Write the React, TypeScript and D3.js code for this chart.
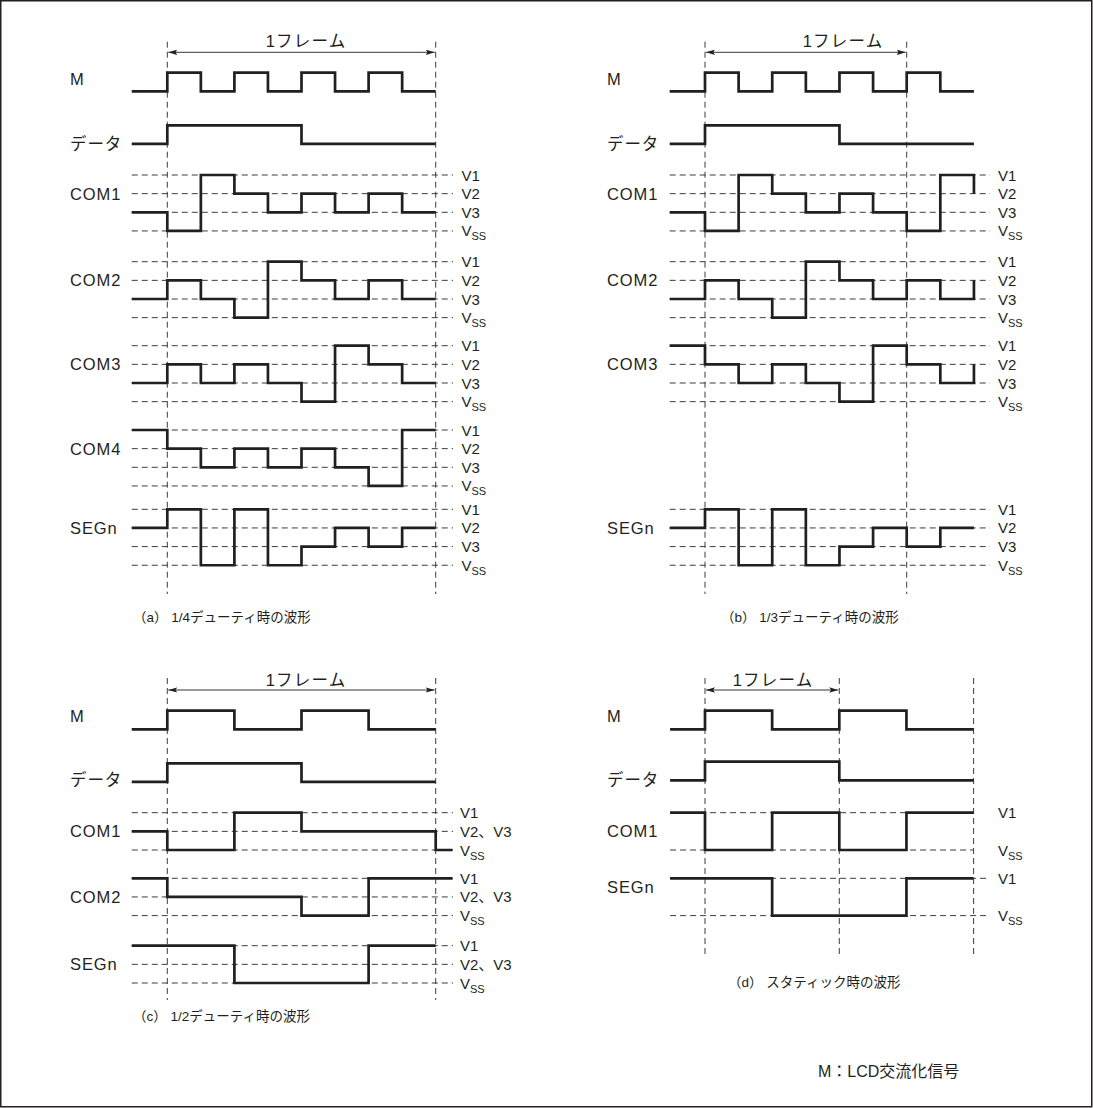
import React from "react";
import * as d3 from "d3";

// ---------- level vocabularies ----------
const LOGIC_LEVELS = ["H", "L"];
const DUTY4_LEVELS = ["V1", "V2", "V3", "VSS"];
const DUTY2_LEVELS = ["V1", "V23", "VSS"];
const STATIC_LEVELS = ["V1", "MID", "VSS"];

// ---------- (a) 1/4 duty : pre-level + 8 steps ----------
const a_M = ["L", "H", "L", "H", "L", "H", "L", "H", "L"];
const a_DATA = ["L", "H", "H", "H", "H", "L", "L", "L", "L"];
const a_COM1 = ["V3", "VSS", "V1", "V2", "V3", "V2", "V3", "V2", "V3"];
const a_COM2 = ["V3", "V2", "V3", "VSS", "V1", "V2", "V3", "V2", "V3"];
const a_COM3 = ["V3", "V2", "V3", "V2", "V3", "VSS", "V1", "V2", "V3"];
const a_COM4 = ["V1", "V2", "V3", "V2", "V3", "V2", "V3", "VSS", "V1"];
const a_SEG = ["V2", "V1", "VSS", "V1", "VSS", "V3", "V2", "V3", "V2"];

// ---------- (b) 1/3 duty : pre-level + 8 steps (+ tail) ----------
const b_M = ["L", "H", "L", "H", "L", "H", "L", "H", "L"];
const b_DATA = ["L", "H", "H", "H", "H", "L", "L", "L", "L"];
const b_COM1 = ["V3", "VSS", "V1", "V2", "V3", "V2", "V3", "VSS", "V1"];
const b_COM2 = ["V3", "V2", "V3", "VSS", "V1", "V2", "V3", "V2", "V3"];
const b_COM3 = ["V1", "V2", "V3", "V2", "V3", "VSS", "V1", "V2", "V3"];
const b_SEG = ["V2", "V1", "VSS", "V1", "VSS", "V3", "V2", "V3", "V2"];
const b_TAILS = { COM1: "V2", COM2: "V2", COM3: "V2" };

// ---------- (c) 1/2 duty : pre-level + 4 steps (+ tail) ----------
const c_M = ["L", "H", "L", "H", "L"];
const c_DATA = ["L", "H", "H", "L", "L"];
const c_COM1 = ["V23", "VSS", "V1", "V23", "V23"];
const c_COM2 = ["V1", "V23", "V23", "VSS", "V1"];
const c_SEG = ["V1", "V1", "VSS", "VSS", "V1"];
const c_TAILS = { COM1: "VSS", COM2: "V1" };

// ---------- (d) static : pre-level + 4 steps ----------
const d_M = ["L", "H", "L", "H", "L"];
const d_DATA = ["L", "H", "H", "L", "L"];
const d_COM1 = ["V1", "VSS", "V1", "VSS", "V1"];
const d_SEG = ["V1", "V1", "VSS", "VSS", "V1"];

// ---------- text ----------
const FRAME_LABEL = "1フレーム";
const CAPTIONS = [
  "（a） 1/4デューティ時の波形",
  "（b） 1/3デューティ時の波形",
  "（c） 1/2デューティ時の波形",
  "（d） スタティック時の波形",
];
const FOOTNOTE = "M：LCD交流化信号";

// ---------- style ----------
const INK = "#231f20";
const DASH = "#3c3c3c";
const FONT = "'Liberation Sans', Arial, 'Noto Sans CJK JP', sans-serif";
const GRID = 18.65;

type Row = {
  label: string;
  top: number;
  levels: string[];
  wave: string[];
  tail?: string;
  labelGrid: number;
  marks?: string[];
  dashEnd?: number;
};

type Panel = {
  frameStart: number;
  frameEnd: number;
  frameSteps: number;
  totalSteps: number;
  pre: number;
  tailExt: number;
  vLines: number[];
  vTop: number;
  vBottom: number;
  arrowY: number;
  titleX: number;
  titleY: number;
  labelX: number;
  rightX: number;
  dashEnd: number;
  caption: string;
  captionX: number;
  captionY: number;
  rows: Row[];
};

const panels: Panel[] = [
  {
    frameStart: 167.3, frameEnd: 435.7, frameSteps: 8, totalSteps: 8, pre: -1.06, tailExt: 0,
    vLines: [0, 8], vTop: 41.7, vBottom: 594, arrowY: 52.3, titleX: 306, titleY: 47,
    labelX: 70, rightX: 461.5, dashEnd: 453, caption: CAPTIONS[0], captionX: 133, captionY: 622,
    rows: [
      { label: "M", top: 72.7, levels: LOGIC_LEVELS, wave: a_M, labelGrid: 0.35 },
      { label: "データ", top: 125.3, levels: LOGIC_LEVELS, wave: a_DATA, labelGrid: 1 },
      { label: "COM1", top: 175, levels: DUTY4_LEVELS, wave: a_COM1, labelGrid: 1, marks: DUTY4_LEVELS },
      { label: "COM2", top: 261.7, levels: DUTY4_LEVELS, wave: a_COM2, labelGrid: 1, marks: DUTY4_LEVELS },
      { label: "COM3", top: 345.7, levels: DUTY4_LEVELS, wave: a_COM3, labelGrid: 1, marks: DUTY4_LEVELS },
      { label: "COM4", top: 430, levels: DUTY4_LEVELS, wave: a_COM4, labelGrid: 1, marks: DUTY4_LEVELS },
      { label: "SEGn", top: 509.3, levels: DUTY4_LEVELS, wave: a_SEG, labelGrid: 1, marks: DUTY4_LEVELS },
    ],
  },
  {
    frameStart: 705, frameEnd: 906.7, frameSteps: 6, totalSteps: 8, pre: -1.05, tailExt: 0,
    vLines: [0, 6], vTop: 41.7, vBottom: 594, arrowY: 52.3, titleX: 843, titleY: 47,
    labelX: 607, rightX: 998, dashEnd: 990, caption: CAPTIONS[1], captionX: 721, captionY: 622,
    rows: [
      { label: "M", top: 72.7, levels: LOGIC_LEVELS, wave: b_M, labelGrid: 0.35 },
      { label: "データ", top: 125.3, levels: LOGIC_LEVELS, wave: b_DATA, labelGrid: 1 },
      { label: "COM1", top: 175, levels: DUTY4_LEVELS, wave: b_COM1, tail: b_TAILS.COM1, labelGrid: 1, marks: DUTY4_LEVELS },
      { label: "COM2", top: 261.7, levels: DUTY4_LEVELS, wave: b_COM2, tail: b_TAILS.COM2, labelGrid: 1, marks: DUTY4_LEVELS },
      { label: "COM3", top: 345.7, levels: DUTY4_LEVELS, wave: b_COM3, tail: b_TAILS.COM3, labelGrid: 1, marks: DUTY4_LEVELS },
      { label: "SEGn", top: 509.3, levels: DUTY4_LEVELS, wave: b_SEG, labelGrid: 1, marks: DUTY4_LEVELS },
    ],
  },
  {
    frameStart: 167.3, frameEnd: 435.7, frameSteps: 4, totalSteps: 4, pre: -0.53, tailExt: 0.25,
    vLines: [0, 4], vTop: 678, vBottom: 1000, arrowY: 690, titleX: 306, titleY: 685.5,
    labelX: 70, rightX: 460, dashEnd: 453, caption: CAPTIONS[2], captionX: 133, captionY: 1021,
    rows: [
      { label: "M", top: 710.7, levels: LOGIC_LEVELS, wave: c_M, labelGrid: 0.3 },
      { label: "データ", top: 763.3, levels: LOGIC_LEVELS, wave: c_DATA, labelGrid: 0.9 },
      { label: "COM1", top: 812.7, levels: DUTY2_LEVELS, wave: c_COM1, tail: c_TAILS.COM1, labelGrid: 1, marks: DUTY2_LEVELS },
      { label: "COM2", top: 878.3, levels: DUTY2_LEVELS, wave: c_COM2, tail: c_TAILS.COM2, labelGrid: 1, marks: DUTY2_LEVELS },
      { label: "SEGn", top: 945.7, levels: DUTY2_LEVELS, wave: c_SEG, labelGrid: 1, marks: DUTY2_LEVELS },
    ],
  },
  {
    frameStart: 705, frameEnd: 839.3, frameSteps: 2, totalSteps: 4, pre: -0.52, tailExt: 0,
    vLines: [0, 2, 4], vTop: 678, vBottom: 958, arrowY: 690, titleX: 773, titleY: 685.5,
    labelX: 607, rightX: 998, dashEnd: 973.5, caption: CAPTIONS[3], captionX: 728, captionY: 987,
    rows: [
      { label: "M", top: 710.7, levels: LOGIC_LEVELS, wave: d_M, labelGrid: 0.3 },
      { label: "データ", top: 761.7, levels: LOGIC_LEVELS, wave: d_DATA, labelGrid: 1 },
      { label: "COM1", top: 812.7, levels: STATIC_LEVELS, wave: d_COM1, labelGrid: 1, marks: ["V1", "VSS"] },
      { label: "SEGn", top: 878.3, levels: STATIC_LEVELS, wave: d_SEG, labelGrid: 0.45, marks: ["V1", "VSS"], dashEnd: 990 },
    ],
  },
];

function LevelLabel({ x, y, level }: { x: number; y: number; level: string }) {
  const base = { x, y: y + 5.5, fontSize: 15, fill: INK, fontFamily: FONT } as any;
  if (level === "VSS") {
    return (
      <text {...base}>
        V<tspan fontSize={11} dy={4}>SS</tspan>
      </text>
    );
  }
  const txt = level === "V23" ? "V2、V3" : level;
  return <text {...base}>{txt}</text>;
}

function PanelView({ p }: { p: Panel }) {
  const x = d3.scaleLinear().domain([0, p.frameSteps]).range([p.frameStart, p.frameEnd]);
  const xPre = x(p.pre);
  return (
    <g>
      {p.vLines.map((t, i) => (
        <line key={"v" + i} x1={x(t)} x2={x(t)} y1={p.vTop} y2={p.vBottom}
          stroke={DASH} strokeWidth={1} strokeDasharray="6 4" />
      ))}
      <line x1={x(0) + 1} x2={x(p.frameSteps) - 1} y1={p.arrowY} y2={p.arrowY}
        stroke={INK} strokeWidth={0.9} markerStart="url(#arr)" markerEnd="url(#arr)" />
      <text x={p.titleX} y={p.titleY} textAnchor="middle" fontSize={16.5} letterSpacing={1.2}
        fill={INK} fontFamily={FONT}>{FRAME_LABEL}</text>
      {p.rows.map((r, ri) => {
        const y = d3.scaleLinear().domain([0, 1]).range([r.top, r.top + GRID]);
        const yl = (lv: string) => y(r.levels.indexOf(lv));
        const pts: [number, number][] = [];
        pts.push([xPre, yl(r.wave[0])]);
        for (let i = 1; i < r.wave.length; i++) pts.push([x(i - 1), yl(r.wave[i])]);
        const last = r.wave[r.wave.length - 1];
        pts.push([x(p.totalSteps), yl(last)]);
        if (r.tail) {
          pts.push([x(p.totalSteps), yl(r.tail)]);
          if (p.tailExt > 0) pts.push([x(p.totalSteps + p.tailExt), yl(r.tail)]);
        }
        const line = d3.line().curve(d3.curveStepAfter);
        const dEnd = r.dashEnd ?? p.dashEnd;
        return (
          <g key={"r" + ri}>
            {(r.marks || []).map((lv, k) => (
              <line key={"h" + k} x1={xPre} x2={dEnd} y1={yl(lv)} y2={yl(lv)}
                stroke={DASH} strokeWidth={1} strokeDasharray="6 4" />
            ))}
            <path d={line(pts) || ""} fill="none" stroke={INK} strokeWidth={2.7}
              strokeLinejoin="miter" strokeLinecap="butt" />
            <text x={p.labelX} y={y(r.labelGrid) + 6} fontSize={16.5} letterSpacing={0.9}
              fill={INK} fontFamily={FONT}>{r.label}</text>
            {(r.marks || []).map((lv, k) => (
              <LevelLabel key={"l" + k} x={p.rightX} y={yl(lv)} level={lv} />
            ))}
          </g>
        );
      })}
      <text x={p.captionX} y={p.captionY} fontSize={13.5} fill={INK} fontFamily={FONT}>{p.caption}</text>
    </g>
  );
}

export default function App() {
  return (
    <svg width={1093} height={1108} style={{ position: "absolute", left: 0, top: 0, background: "#fff" }}>
      <defs>
        <marker id="arr" viewBox="0 0 10 6" refX={10} refY={3} markerWidth={9} markerHeight={5.5}
          markerUnits="userSpaceOnUse" orient="auto-start-reverse">
          <path d="M0,0 L10,3 L0,6 L2,3 z" fill={INK} />
        </marker>
      </defs>
      <rect x={0.75} y={0.75} width={1091} height={1106} fill="#fff" stroke={INK} strokeWidth={1.5} />
      {panels.map((p, i) => <PanelView key={i} p={p} />)}
      <text x={818} y={1077} fontSize={16} fill={INK} fontFamily={FONT}>{FOOTNOTE}</text>
    </svg>
  );
}
